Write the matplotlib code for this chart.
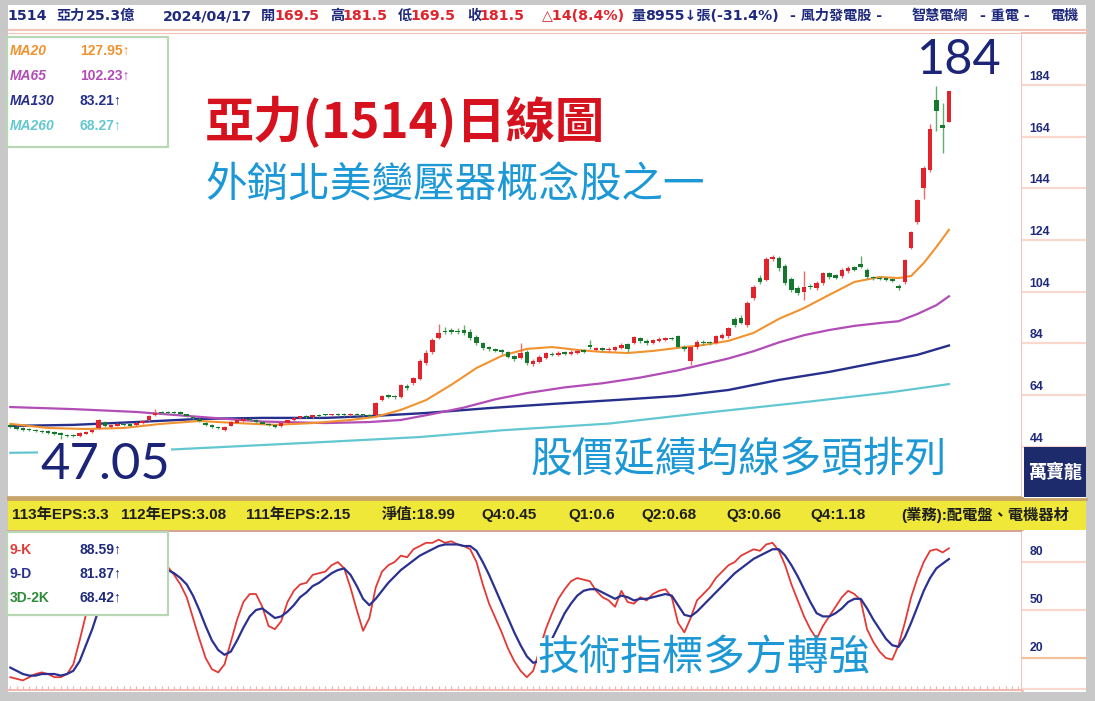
import matplotlib.pyplot as plt
from matplotlib.patches import Rectangle

# daily candles, oldest first (last bar = 2024/04/17)
opens = [52.4, 51.6, 51.2, 50.8, 50.6, 50.2, 50.0, 49.6, 49.2, 48.6,
         48.4, 48.2, 49.0, 49.8, 51.4, 53.6, 51.8, 52.2, 52.8, 52.8,
         52.4, 53.2, 54.4, 56.4, 57.6, 57.4, 57.5, 57.4, 56.6, 55.6,
         54.8, 53.4, 52.4, 51.6, 50.6, 52.2, 53.4, 54.0, 54.8, 54.2,
         53.8, 53.0, 52.6, 52.0, 53.4, 54.4, 55.0, 56.0, 55.6, 56.4,
         56.4, 56.2, 56.8, 56.8, 56.2, 56.8, 56.6, 56.4, 56.4, 62.0,
         64.0, 63.6, 63.4, 67.6, 68.6, 70.2, 76.6, 80.6, 86.2, 89.0,
         89.0, 89.0, 89.2, 88.6, 86.5, 84.0, 82.5, 81.8, 81.4, 80.6,
         79.0, 78.5, 80.8, 76.2, 77.0, 78.5, 80.0, 79.6, 80.6, 80.0,
         80.5, 81.4, 83.2, 81.6, 82.2, 81.4, 81.6, 82.4, 83.6, 84.2,
         86.0, 85.0, 84.2, 85.0, 85.4, 86.0, 86.8, 82.8, 77.4, 82.6,
         84.6, 84.5, 84.2, 86.2, 86.8, 93.5, 94.0, 91.0, 101.5, 109.5,
         108.6, 116.6, 117.0, 114.0, 109.0, 105.5, 104.0, 106.4, 105.4, 107.4,
         111.2, 110.4, 110.0, 112.0, 113.4, 114.6, 112.6, 109.6, 109.4, 109.2,
         108.8, 106.4, 107.6, 121.0, 131.0, 144.2, 151.0, 178.0, 168.4, 169.5]
highs = [52.8, 52.0, 51.5, 51.2, 51.0, 50.6, 50.4, 50.0, 49.6, 49.0,
         48.8, 49.6, 50.2, 51.0, 54.6, 53.9, 53.0, 53.4, 53.2, 53.1,
         53.8, 54.4, 56.4, 58.8, 58.0, 57.8, 57.9, 57.7, 56.9, 55.9,
         55.1, 53.8, 52.7, 51.9, 52.1, 53.9, 54.6, 55.0, 55.1, 54.6,
         54.1, 53.3, 52.9, 53.7, 54.5, 55.5, 56.1, 56.3, 56.5, 56.7,
         56.8, 56.9, 57.1, 57.1, 57.1, 57.1, 56.9, 56.7, 61.2, 64.2,
         64.6, 64.0, 68.2, 68.4, 71.2, 78.0, 81.4, 86.2, 91.6, 90.2,
         90.0, 89.8, 91.0, 89.4, 87.2, 84.6, 83.2, 82.4, 82.0, 81.2,
         79.6, 84.0, 81.4, 78.0, 79.4, 80.8, 80.6, 81.0, 81.2, 81.4,
         81.8, 82.0, 85.5, 82.8, 82.8, 82.6, 83.2, 84.0, 84.2, 87.0,
         86.6, 85.6, 85.8, 86.4, 86.6, 86.6, 87.4, 83.4, 83.0, 85.2,
         85.2, 85.0, 87.4, 88.0, 90.4, 94.2, 95.0, 100.4, 106.8, 110.4,
         117.6, 118.4, 117.8, 114.6, 109.6, 106.2, 112.0, 107.0, 108.0, 111.8,
         111.8, 111.0, 113.2, 113.8, 114.0, 118.0, 113.2, 110.2, 110.0, 109.8,
         109.4, 107.0, 116.8, 127.6, 140.0, 152.6, 168.8, 183.5, 177.0, 181.5]
lows = [51.4, 50.7, 50.3, 50.0, 49.7, 49.4, 49.0, 48.6, 47.05, 47.8,
        47.7, 47.9, 48.8, 49.5, 51.0, 51.8, 51.4, 51.9, 52.0, 51.9,
        52.1, 52.9, 54.1, 56.1, 56.7, 56.6, 56.8, 56.4, 55.4, 54.6,
        53.6, 52.2, 51.4, 50.8, 50.3, 51.9, 53.1, 53.7, 53.9, 53.4,
        52.7, 52.0, 51.4, 51.7, 53.1, 54.1, 54.7, 55.3, 55.3, 55.7,
        55.9, 55.9, 56.1, 55.9, 55.9, 56.1, 55.9, 55.7, 56.1, 61.6,
        62.8, 62.6, 63.0, 66.0, 68.0, 69.8, 75.8, 80.0, 85.6, 87.6,
        87.8, 87.6, 87.4, 85.4, 83.4, 81.6, 81.2, 80.6, 80.0, 78.2,
        77.4, 78.0, 75.8, 75.4, 76.6, 78.0, 79.0, 79.0, 79.4, 79.4,
        79.8, 80.2, 82.0, 81.0, 81.0, 80.8, 81.0, 81.8, 80.6, 83.6,
        84.2, 83.4, 83.6, 84.4, 84.8, 85.2, 82.2, 81.2, 75.5, 82.0,
        83.4, 83.4, 83.6, 85.6, 86.2, 90.4, 91.4, 90.4, 101.0, 107.0,
        108.0, 115.8, 112.2, 106.8, 104.0, 102.8, 100.8, 105.0, 104.8, 106.8,
        109.0, 108.8, 109.4, 111.4, 112.0, 113.0, 109.0, 108.6, 108.4, 108.0,
        107.6, 104.8, 107.0, 120.4, 130.4, 140.0, 150.4, 166.0, 157.8, 169.5]
closes = [51.8, 51.0, 50.6, 50.4, 50.0, 49.8, 49.4, 49.0, 48.5, 48.2,
          48.1, 49.2, 49.8, 50.6, 54.2, 52.2, 52.6, 53.0, 52.4, 52.2,
          53.4, 54.0, 56.0, 57.2, 57.0, 57.0, 57.1, 56.8, 55.8, 55.0,
          54.0, 52.6, 51.8, 51.2, 51.8, 53.6, 54.2, 54.6, 54.2, 53.8,
          53.0, 52.4, 51.8, 53.4, 54.2, 55.2, 55.8, 55.6, 56.2, 56.0,
          56.2, 56.6, 56.4, 56.2, 56.8, 56.4, 56.2, 56.0, 60.8, 63.6,
          63.2, 63.2, 67.8, 66.6, 70.6, 77.4, 80.4, 85.4, 88.0, 88.5,
          88.6, 88.4, 88.0, 86.0, 84.0, 82.2, 81.8, 81.2, 80.6, 78.8,
          78.0, 80.5, 76.4, 77.4, 78.8, 80.2, 79.6, 80.4, 80.0, 80.8,
          81.2, 80.8, 82.8, 82.2, 81.6, 82.0, 82.6, 83.4, 81.8, 86.4,
          84.8, 84.0, 85.2, 85.8, 86.0, 85.8, 82.8, 81.8, 82.6, 84.6,
          84.0, 84.0, 86.8, 87.4, 89.8, 91.0, 92.0, 99.8, 106.0, 107.8,
          116.8, 117.3, 113.0, 107.5, 104.8, 103.6, 105.8, 105.8, 107.4, 111.2,
          109.6, 109.4, 112.6, 113.2, 112.6, 113.6, 109.6, 109.2, 109.0, 108.6,
          108.2, 105.4, 116.2, 127.0, 139.4, 152.0, 167.0, 174.0, 167.5, 181.5]

# moving averages, sampled at candle indices
ma20_idx = [0, 6, 12, 18, 24, 30, 36, 42, 48, 54, 58, 62, 66, 70, 74, 78, 82, 86,
            90, 94, 98, 102, 106, 110, 114, 118, 122, 126, 130, 134, 138, 141,
            143, 145, 147, 149]
ma20_val = [52.9, 51.3, 50.9, 51.3, 52.9, 54.0, 53.2, 52.5, 53.2, 54.4, 55.6, 58.3,
            62.1, 68.0, 74.5, 79.2, 81.9, 82.6, 81.5, 80.7, 80.3, 81.1, 82.3, 83.4,
            85.0, 88.1, 93.5, 97.7, 102.8, 107.8, 109.7, 109.3, 110.1, 115.1,
            121.3, 127.95]
ma65_idx = [0, 10, 20, 30, 40, 50, 57, 62, 67, 72, 77, 82, 88, 94, 100, 106, 110,
            114, 118, 122, 126, 130, 134, 138, 141, 144, 147, 149]
ma65_val = [59.4, 58.6, 57.5, 55.6, 53.8, 53.2, 53.6, 54.4, 56.7, 59.2, 62.4, 64.8,
            67.0, 68.6, 70.8, 73.6, 75.9, 78.2, 81.0, 84.4, 87.2, 89.2, 90.8, 91.9,
            92.6, 95.4, 98.8, 102.23]
ma130_idx = [0, 10, 20, 30, 40, 50, 58, 66, 76, 86, 96, 106, 114, 122, 130, 138,
             144, 149]
ma130_val = [52.1, 52.5, 53.6, 54.8, 55.2, 55.2, 56.0, 57.1, 59.0, 60.6, 62.1, 63.7,
             66.0, 69.9, 73.0, 76.8, 79.6, 83.21]
ma260_idx = [0, 10, 25, 50, 65, 78, 95, 110, 125, 140, 149]
ma260_val = [41.7, 42.0, 42.9, 45.9, 47.8, 50.4, 53.0, 57.1, 61.0, 65.2, 68.27]

# 9-day KD
k_vals = [8, 7, 6, 8, 10, 11, 10, 8, 8, 10,
          16, 31, 47, 60, 72, 70, 72, 74, 70, 72,
          75, 80, 85, 86, 82, 77, 72, 66, 58, 45,
          32, 20, 13, 11, 16, 30, 44, 55, 60, 60,
          52, 40, 38, 43, 55, 62, 66, 67, 72, 73,
          74, 78, 80, 76, 64, 50, 37, 45, 64, 74,
          78, 80, 84, 83, 88, 90, 92, 92, 94, 92,
          93, 91, 90, 88, 80, 66, 54, 45, 36, 26,
          18, 12, 8, 12, 25, 38, 48, 57, 63, 68,
          70, 69, 68, 62, 58, 56, 52, 62, 55, 54,
          58, 56, 60, 62, 63, 58, 42, 36, 45, 56,
          60, 64, 70, 74, 78, 80, 84, 86, 88, 87,
          91, 92, 87, 78, 66, 56, 46, 38, 32, 40,
          46, 52, 58, 62, 60, 56, 38, 30, 24, 20,
          19, 28, 42, 58, 70, 80, 87, 88, 86, 88.59]
d_vals = [14, 12, 10, 9, 9, 10, 10, 10, 9, 10,
          12, 18, 28, 38, 50, 56, 61, 66, 67, 69,
          71, 74, 78, 80, 78, 75, 73, 70, 66, 59,
          50, 40, 31, 25, 22, 24, 31, 39, 46, 50,
          51, 48, 45, 46, 49, 53, 58, 61, 65, 67,
          70, 73, 75, 76, 72, 65, 57, 53, 57, 62,
          67, 71, 75, 78, 81, 84, 86, 88, 90, 91,
          91, 91, 90, 90, 87, 80, 72, 63, 54, 45,
          36, 28, 21, 17, 18, 24, 32, 40, 48, 54,
          59, 62, 63, 63, 61, 59, 57, 59, 58, 56,
          57, 57, 58, 59, 60, 59, 53, 47, 46, 49,
          53, 57, 61, 65, 69, 73, 76, 79, 82, 84,
          86, 88, 88, 84, 78, 71, 63, 55, 48, 46,
          46, 48, 51, 55, 57, 57, 51, 44, 38, 32,
          28, 27, 33, 42, 52, 62, 70, 76, 79, 81.87]

ma_names = ["MA20", "MA65", "MA130", "MA260"]
ma_last = ["127.95↑", "102.23↑", "83.21↑", "68.27↑"]
kd_names = ["9-K", "9-D", "3D-2K"]
kd_last = ["88.59↑", "81.87↑", "68.42↑"]
price_ticks = [184, 164, 144, 124, 104, 84, 64, 44]
kd_ticks = [80, 50, 20]

NAVY = "#1f2a7c"
RED = "#e0242c"
C_MA = ["#f1922e", "#b24cb6", "#262f8c", "#63c7d1"]
C_KD = ["#e43a36", "#2b3190", "#2e8b3a"]

header = [(7, "1514", NAVY), (56, "亞力", NAVY), (86, "25.3億", NAVY),
          (163, "2024/04/17", NAVY), (261, "開", NAVY), (274, "169.5", RED),
          (330, "高", NAVY), (342, "181.5", RED), (398, "低", NAVY),
          (410, "169.5", RED), (467, "收", NAVY), (479, "181.5", RED),
          (542, "△14(8.4%)", RED), (631, "量", NAVY), (645, "8955↓張(-31.4%)", NAVY),
          (790, "- 風力發電股 -", NAVY), (912, "智慧電網", NAVY),
          (980, "- 重電 -", NAVY), (1050, "電機", NAVY)]
eps_items = [(12, "113年EPS:3.3"), (121, "112年EPS:3.08"), (246, "111年EPS:2.15"),
             (382, "淨值:18.99"), (481, "Q4:0.45"), (568, "Q1:0.6"), (641, "Q2:0.68"),
             (726, "Q3:0.66"), (810, "Q4:1.18"), (901, "(業務):配電盤、電機器材")]

W, H = 1095, 701
CJK = ["Noto Sans CJK TC", "DejaVu Sans"]
LAT = ["Liberation Sans", "Noto Sans CJK TC", "DejaVu Sans"]
HDR = ["DejaVu Sans", "Noto Sans CJK TC"]


def frame(x0, y0, x1, y1):
    return [x0 / W, 1 - y1 / H, (x1 - x0) / W, (y1 - y0) / H]


def px(x, y):
    return x / W, 1 - y / H


fig = plt.figure(figsize=(W / 100, H / 100), dpi=100, facecolor="#c8c8c8")
fig.add_artist(Rectangle(px(8, 692), 1078 / W, 687 / H, transform=fig.transFigure,
                         facecolor="white", edgecolor="none", zorder=0))

# ---- price panel
ax = fig.add_axes(frame(8, 33, 1022, 497))
axr = fig.add_axes(frame(1022, 33, 1086, 497))
ylo, yhi = 24.6, 204.1
xlo, xhi = -0.37, 160.6
ax.set_xlim(xlo, xhi)
ax.set_ylim(ylo, yhi)

idx = list(range(len(closes)))
up = [c >= o for o, c in zip(opens, closes)]
body_col = ["#e3232c" if u else "#16782f" for u in up]
wick_col = ["#ef6a6a" if u else "#5fae6e" for u in up]
bottoms = [min(o, c) for o, c in zip(opens, closes)]
heights = [max(abs(c - o), 0.45) for o, c in zip(opens, closes)]

ax.plot(ma260_idx, ma260_val, color=C_MA[3], lw=1.6, zorder=2)
ax.plot(ma130_idx, ma130_val, color=C_MA[2], lw=1.7, zorder=2)
ax.plot(ma65_idx, ma65_val, color=C_MA[1], lw=1.6, zorder=2)
ax.plot(ma20_idx, ma20_val, color=C_MA[0], lw=1.5, zorder=2)
ax.vlines(idx, lows, highs, colors=wick_col, lw=1.0, zorder=3)
ax.bar(idx, heights, bottom=bottoms, width=0.72, color=body_col, zorder=4)

ax.set_xticks([])
ax.set_yticks([])
ax.spines["left"].set_visible(False)
ax.spines["top"].set_color("#f2c2b6")
ax.spines["right"].set_color("#f3bcb6")
ax.spines["right"].set_linewidth(2)
ax.spines["bottom"].set_color("#c9a66c")
ax.spines["bottom"].set_linewidth(2)

axr.set_ylim(ylo, yhi)
axr.set_xlim(0, 1)
axr.set_xticks([])
axr.set_yticks([])
for s in axr.spines.values():
    s.set_visible(False)
for v in price_ticks:
    axr.axhline(v, color="#f9d9cd", lw=1.6)
    axr.text(0.12, v + 3.1, str(v), color=NAVY, fontsize=8.8, fontweight="bold",
             family=LAT, va="center", ha="left")
axr.plot([0, 1], [yhi, yhi], color="#f2c2b6", lw=1.5, clip_on=False)

# ---- KD panel
axk = fig.add_axes(frame(8, 531, 1022, 690))
axkr = fig.add_axes(frame(1022, 531, 1086, 690))
axk.set_xlim(xlo, xhi)
axk.set_ylim(0, 99.4)
axk.plot(idx, k_vals, color=C_KD[0], lw=1.3, zorder=3)
axk.plot(idx, d_vals, color=C_KD[1], lw=1.6, zorder=3)
axk.set_yticks([])
axk.set_xticks(range(0, 161))
axk.tick_params(axis="x", direction="in", length=3, color="#efb2aa", labelbottom=False)
axk.spines["left"].set_visible(False)
axk.spines["top"].set_color("#d8a394")
axk.spines["top"].set_linewidth(1.5)
axk.spines["right"].set_color("#f3bcb6")
axk.spines["right"].set_linewidth(2)
axk.spines["bottom"].set_color("#f0b8b0")
axk.spines["bottom"].set_linewidth(1.5)

axkr.set_ylim(0, 99.4)
axkr.set_xlim(0, 1)
axkr.set_xticks([])
axkr.set_yticks([])
for s in axkr.spines.values():
    s.set_visible(False)
for v in kd_ticks:
    axkr.axhline(v, color="#f9d9cd" if v != 20 else "#f2c09a", lw=1.6)
    axkr.text(0.12, v + 6.2, str(v), color=NAVY, fontsize=8.8, fontweight="bold",
              family=LAT, va="center", ha="left")
axkr.axhline(0.5, color="#f9d9cd", lw=1.6)

# ---- header line
for x, s, c in header:
    fig.text(*px(x, 16), s, color=c, fontsize=10.2, fontweight="bold", family=HDR,
             va="center", ha="left")
fig.add_artist(plt.Line2D([8 / W, 1086 / W], [1 - 30 / H] * 2, color="#f2c2b6", lw=1.5,
                          transform=fig.transFigure))

# ---- EPS strip
fig.add_artist(Rectangle(px(8, 530), 1078 / W, 31 / H, transform=fig.transFigure,
                         facecolor="#efe838", edgecolor="none", zorder=1))
fig.add_artist(plt.Line2D([8 / W, 1086 / W], [1 - 499 / H] * 2, color="#c7a36a", lw=2,
                          transform=fig.transFigure, zorder=2))
for x, s in eps_items:
    fig.text(*px(x, 515), s, color="#1e1e1e", fontsize=11, fontweight="bold",
             family=LAT, va="center", ha="left", zorder=3)

# ---- legend boxes
fig.add_artist(Rectangle(px(7, 147), 161 / W, 110 / H, transform=fig.transFigure,
                         facecolor="white", edgecolor="#b9d7b4", lw=1.6, zorder=5))
for i, (name, val) in enumerate(zip(ma_names, ma_last)):
    y = 51 + i * 25
    fig.text(*px(10, y), name, color=C_MA[i], fontsize=10, fontweight="bold",
             style="italic", family=LAT, va="center", zorder=6)
    fig.text(*px(80, y), val, color=C_MA[i], fontsize=10, fontweight="bold",
             family=LAT, va="center", zorder=6)

fig.add_artist(Rectangle(px(7, 615), 161 / W, 83 / H, transform=fig.transFigure,
                         facecolor="white", edgecolor="#b9d7b4", lw=1.6, zorder=5))
for i, (name, val) in enumerate(zip(kd_names, kd_last)):
    y = 550 + i * 24
    fig.text(*px(10, y), name, color=C_KD[i], fontsize=10, fontweight="bold",
             family=LAT, va="center", zorder=6)
    fig.text(*px(80, y), val, color=NAVY, fontsize=10, fontweight="bold",
             family=LAT, va="center", zorder=6)

# ---- brand tag
fig.add_artist(Rectangle(px(1024, 497), 62 / W, 50 / H, transform=fig.transFigure,
                         facecolor="#1d2a6b", edgecolor="none", zorder=5))
fig.text(*px(1055, 472), "萬寶龍", color="white", fontsize=13, fontweight="bold",
         family=CJK, ha="center", va="center", zorder=6)

# ---- captions
fig.text(*px(205, 122), "亞力(1514)日線圖", color="#d5121e", fontsize=35.5,
         fontweight="bold", family=CJK, va="center", ha="left", zorder=6)
fig.text(*px(205, 186), "外銷北美變壓器概念股之一", color="#1b98d5", fontsize=30,
         family=CJK, va="center", ha="left", zorder=6)
fig.text(*px(530, 460), "股價延續均線多頭排列", color="#1b98d5", fontsize=30,
         family=CJK, va="center", ha="left", zorder=6)
fig.text(*px(537, 658), "技術指標多方轉強", color="#1b98d5", fontsize=30,
         family=CJK, va="center", ha="left", zorder=6,
         bbox=dict(facecolor="white", edgecolor="none", pad=0))
fig.text(*px(959, 60), "184", color="#1c2477", fontsize=35, family=["Lato", "DejaVu Sans"],
         va="center", ha="center", zorder=6)
fig.text(*px(40, 465), "47.05", color="#1c2477", fontsize=36.5,
         family=["Lato", "DejaVu Sans"], va="center", ha="left", zorder=6,
         bbox=dict(facecolor="white", edgecolor="none", pad=1))

fig.savefig("out.png", dpi=100, facecolor=fig.get_facecolor())
